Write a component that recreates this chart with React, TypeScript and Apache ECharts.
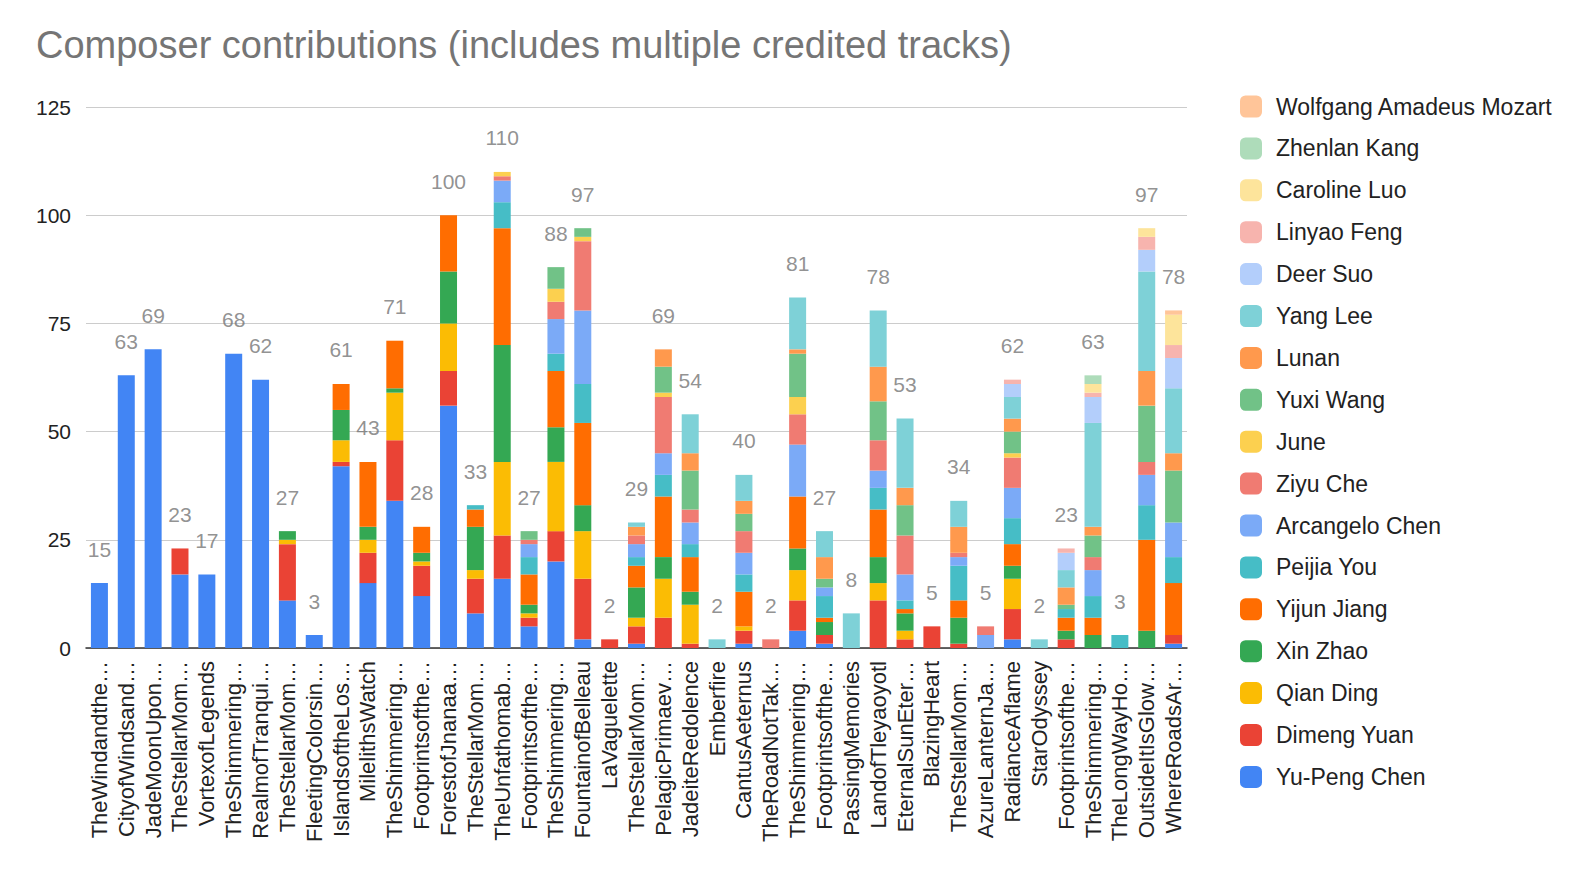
import React, { useEffect, useRef } from "react";
import * as echarts from "echarts";

const categories = [
  "TheWindandthe…", "CityofWindsand…", "JadeMoonUpon…", "TheStellarMom…", "VortexofLegends",
  "TheShimmering…", "RealmofTranqui…", "TheStellarMom…", "FleetingColorsin…", "IslandsoftheLos…",
  "MilelithsWatch", "TheShimmering…", "Footprintsofthe…", "ForestofJnanaa…", "TheStellarMom…",
  "TheUnfathomab…", "Footprintsofthe…", "TheShimmering…", "FountainofBelleau", "LaVaguelette",
  "TheStellarMom…", "PelagicPrimaev…", "JadeiteRedolence", "Emberfire", "CantusAeternus",
  "TheRoadNotTak…", "TheShimmering…", "Footprintsofthe…", "PassingMemories", "LandofTleyaoyotl",
  "EternalSunEter…", "BlazingHeart", "TheStellarMom…", "AzureLanternJa…", "RadianceAflame",
  "StarOdyssey", "Footprintsofthe…", "TheShimmering…", "TheLongWayHo…", "OutsideItIsGlow…",
  "WhereRoadsAr…",
];

const yuPengChen = [15,63,69,17,17,68,62,11,3,42,15,34,12,56,8,16,5,20,2,0,1,0,0,0,1,0,4,1,0,0,0,0,0,0,2,0,0,0,0,0,1];
const dimengYuan = [0,0,0,6,0,0,0,13,0,1,7,14,7,8,8,10,2,7,14,2,4,7,1,0,3,0,7,2,0,11,2,5,1,0,7,0,2,0,0,0,2];
const qianDing = [0,0,0,0,0,0,0,1,0,5,3,11,1,11,2,17,1,16,11,0,2,9,9,0,1,0,7,0,0,4,2,0,0,0,7,0,0,0,0,0,0];
const xinZhao = [0,0,0,0,0,0,0,2,0,7,3,1,2,12,10,27,2,8,6,0,7,5,3,0,0,0,5,3,0,6,4,0,6,0,3,0,2,3,0,4,0];
const yijunJiang = [0,0,0,0,0,0,0,0,0,6,15,11,6,13,4,27,7,13,19,0,5,14,8,0,8,0,12,1,0,11,1,0,4,0,5,0,3,4,0,21,12];
const peijiaYou = [0,0,0,0,0,0,0,0,0,0,0,0,0,0,1,6,4,4,9,0,2,5,3,0,4,0,0,5,0,5,2,0,8,0,6,0,2,5,3,8,6];
const arcangeloChen = [0,0,0,0,0,0,0,0,0,0,0,0,0,0,0,5,3,8,17,0,3,5,5,0,5,0,12,2,0,4,6,0,2,3,7,0,0,6,0,7,8];
const ziyuChe = [0,0,0,0,0,0,0,0,0,0,0,0,0,0,0,1,1,4,16,0,2,13,3,0,5,2,7,0,0,7,9,0,1,2,7,0,0,3,0,3,0];
const june = [0,0,0,0,0,0,0,0,0,0,0,0,0,0,0,1,0,3,1,0,0,1,0,0,0,0,4,0,0,0,0,0,0,0,1,0,0,0,0,0,0];
const yuxiWang = [0,0,0,0,0,0,0,0,0,0,0,0,0,0,0,0,2,5,2,0,0,6,9,0,4,0,10,2,0,9,7,0,0,0,5,0,1,5,0,13,12];
const lunan = [0,0,0,0,0,0,0,0,0,0,0,0,0,0,0,0,0,0,0,0,2,4,4,0,3,0,1,5,0,8,4,0,6,0,3,0,4,2,0,8,4];
const yangLee = [0,0,0,0,0,0,0,0,0,0,0,0,0,0,0,0,0,0,0,0,1,0,9,2,6,0,12,6,8,13,16,0,6,0,5,2,4,24,0,23,15];
const deerSuo = [0,0,0,0,0,0,0,0,0,0,0,0,0,0,0,0,0,0,0,0,0,0,0,0,0,0,0,0,0,0,0,0,0,0,3,0,4,6,0,5,7];
const linyaoFeng = [0,0,0,0,0,0,0,0,0,0,0,0,0,0,0,0,0,0,0,0,0,0,0,0,0,0,0,0,0,0,0,0,0,0,1,0,1,1,0,3,3];
const carolineLuo = [0,0,0,0,0,0,0,0,0,0,0,0,0,0,0,0,0,0,0,0,0,0,0,0,0,0,0,0,0,0,0,0,0,0,0,0,0,2,0,2,7];
const zhenlanKang = [0,0,0,0,0,0,0,0,0,0,0,0,0,0,0,0,0,0,0,0,0,0,0,0,0,0,0,0,0,0,0,0,0,0,0,0,0,2,0,0,0];
const mozart = [0,0,0,0,0,0,0,0,0,0,0,0,0,0,0,0,0,0,0,0,0,0,0,0,0,0,0,0,0,0,0,0,0,0,0,0,0,0,0,0,1];

const seriesNames = [
  "Yu-Peng Chen", "Dimeng Yuan", "Qian Ding", "Xin Zhao", "Yijun Jiang", "Peijia You",
  "Arcangelo Chen", "Ziyu Che", "June", "Yuxi Wang", "Lunan", "Yang Lee", "Deer Suo",
  "Linyao Feng", "Caroline Luo", "Zhenlan Kang", "Wolfgang Amadeus Mozart",
];
const seriesValues = [
  yuPengChen, dimengYuan, qianDing, xinZhao, yijunJiang, peijiaYou, arcangeloChen, ziyuChe,
  june, yuxiWang, lunan, yangLee, deerSuo, linyaoFeng, carolineLuo, zhenlanKang, mozart,
];
const seriesColors = [
  "#4285F4", "#EA4335", "#FBBC04", "#34A853", "#FF6D01", "#46BDC6", "#7BAAF7", "#F07B72",
  "#FCD04F", "#71C287", "#FF994D", "#7ED1D7", "#B3CEFB", "#F7B4AE", "#FDE49B", "#AEDCBA",
  "#FFC599",
];

const yTicks = { min: 0, max: 125, interval: 25 };

const FONT = "'Liberation Sans', Arial, sans-serif";

export default function App() {
  const ref = useRef<HTMLDivElement>(null);

  useEffect(() => {
    if (!ref.current) return;
    const chart = echarts.init(ref.current, null, { renderer: "svg" });
    const totals = categories.map((_, i) =>
      seriesValues.reduce((s, arr) => s + arr[i], 0)
    );

    const barSeries = seriesNames.map((name, k) => ({
      name,
      type: "bar",
      stack: "total",
      barWidth: 17,
      data: seriesValues[k],
      itemStyle: { color: seriesColors[k] },
      emphasis: { disabled: true },
    }));

    chart.setOption({
      animation: false,
      textStyle: { fontFamily: FONT },
      title: {
        text: "Composer contributions (includes multiple credited tracks)",
        left: 31,
        top: 21,
        textStyle: { fontSize: 38, fontWeight: "normal", color: "#757575", fontFamily: FONT },
      },
      legend: {
        orient: "vertical",
        left: 1235,
        top: 90,
        itemWidth: 22,
        itemHeight: 22,
        itemGap: 18.9,
        icon: "roundRect",
        data: [...seriesNames].reverse(),
        textStyle: {
          fontSize: 23,
          lineHeight: 22,
          color: "#222",
          fontFamily: FONT,
          padding: [0, 0, 0, 9],
        },
      },
      grid: { left: 86, right: 397, top: 107, bottom: 236, containLabel: false },
      xAxis: {
        type: "category",
        data: categories,
        axisLine: { show: true, lineStyle: { color: "#333", width: 1.5 } },
        axisTick: { show: false },
        axisLabel: {
          interval: 0,
          rotate: 90,
          margin: 13,
          fontSize: 22,
          color: "#222",
          fontFamily: FONT,
        },
      },
      yAxis: {
        type: "value",
        min: yTicks.min,
        max: yTicks.max,
        interval: yTicks.interval,
        axisLine: { show: false },
        axisTick: { show: false },
        splitLine: { lineStyle: { color: "#cccccc", width: 1 } },
        axisLabel: { fontSize: 21, color: "#222", margin: 15, fontFamily: FONT },
      },
      series: [
        ...barSeries,
        {
          name: "Total",
          type: "scatter",
          data: totals,
          symbolSize: 1,
          itemStyle: { color: "rgba(0,0,0,0)" },
          silent: true,
          label: {
            show: true,
            position: "top",
            distance: 23,
            fontSize: 21,
            color: "#757575",
            fontFamily: FONT,
            formatter: (p: any) => String(p.value),
          },
          z: 10,
        },
      ],
    });

    return () => chart.dispose();
  }, []);

  return (
    <div
      ref={ref}
      style={{ position: "fixed", left: 0, top: 0, width: 1584, height: 884, background: "#fff" }}
    />
  );
}
